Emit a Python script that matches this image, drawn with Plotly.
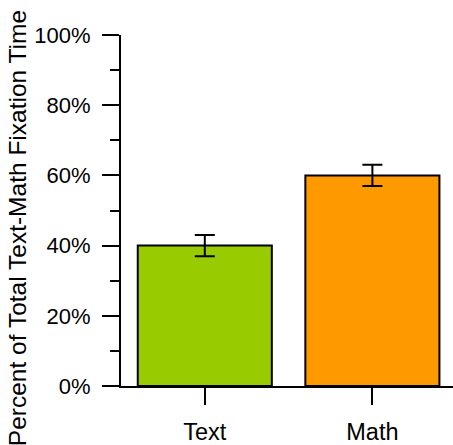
import plotly.graph_objects as go

categories = ["Text", "Math"]
values = [40, 60]
errors = [3, 3]
colors = ["#99CC00", "#FF9900"]
y_tickvals = [0, 20, 40, 60, 80, 100]
y_ticktext = ["0%", "20%", "40%", "60%", "80%", "100%"]
y_title = "Percent of Total Text-Math Fixation Time"

fig = go.Figure()
fig.add_trace(go.Bar(
    x=categories, y=values,
    width=0.8,
    marker=dict(color=colors, line=dict(color="black", width=2)),
    error_y=dict(type="data", array=errors, visible=True, color="black", thickness=2, width=10),
    showlegend=False,
))

font = "Liberation Sans, Arial, sans-serif"
fig.update_layout(
    width=453, height=445,
    margin=dict(l=121, r=0, t=35, b=57),
    paper_bgcolor="white", plot_bgcolor="white",
    font=dict(family=font, color="black"),
    xaxis=dict(
        range=[-0.5, 1.481], showline=True, linecolor="black", linewidth=2,
        ticks="outside", ticklen=17, tickwidth=2, tickcolor="black",
        tickfont=dict(size=23.5, family=font), ticklabelstandoff=7,
        showgrid=False, zeroline=False,
    ),
    yaxis=dict(
        range=[0, 100], tickmode="array", tickvals=y_tickvals, ticktext=y_ticktext,
        showline=True, linecolor="black", linewidth=2,
        ticks="outside", ticklen=17, tickwidth=2, tickcolor="black",
        tickfont=dict(size=22, family=font), ticklabelstandoff=7,
        minor=dict(dtick=10, tick0=0, ticks="outside", ticklen=9, tickwidth=2, tickcolor="black", showgrid=False),
        showgrid=False, zeroline=False,
    ),
    annotations=[dict(
        text=y_title, textangle=-90, xref="paper", yref="paper",
        x=-0.313, y=0.45, xanchor="center", yanchor="middle",
        showarrow=False, font=dict(size=24.5, family=font, color="black"),
    )],
)

fig.write_html("out.html", config={"displayModeBar": False},
               post_script="document.body.style.margin='0';document.body.style.padding='0';")
